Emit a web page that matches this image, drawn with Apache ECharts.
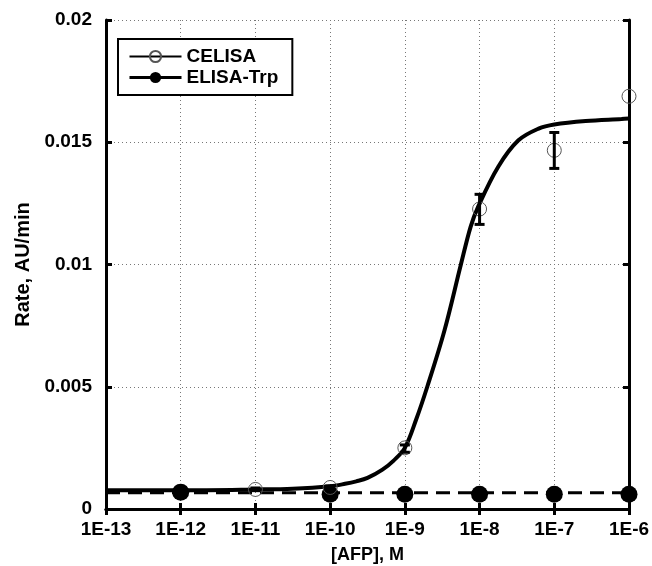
<!DOCTYPE html>
<html>
<head>
<meta charset="utf-8">
<script src="https://cdn.jsdelivr.net/npm/echarts@6/dist/echarts.min.js"></script>
<style>
  html, body { margin: 0; padding: 0; background: #fff; }
  #main { width: 652px; height: 566px; }
</style>
</head>
<body>
<div id="main"></div>
<script>
// CELISA measured points, with error bars
var celisaX = [1e-11, 1e-10, 1e-9, 1e-8, 1e-7, 1e-6];
var celisaY = [0.0008, 0.00088, 0.0025, 0.01227, 0.01467, 0.01688];
var errX = [1e-11, 1e-10, 1e-9, 1e-8, 1e-7];
var errLow = [0.00075, 0.00082, 0.00232, 0.01164, 0.01393];
var errHigh = [0.00086, 0.00094, 0.00262, 0.01287, 0.0154];

// ELISA-Trp measured points
var trpX = [1e-12, 1e-10, 1e-9, 1e-8, 1e-7, 1e-6];
var trpY = [0.00069, 0.0006, 0.0006, 0.0006, 0.0006, 0.0006];

// fitted curves (log10 of concentration)
var curveLogX = [-13, -12, -11, -10.5, -10, -9.8, -9.65, -9.5, -9.3, -9.15, -9, -8.85, -8.7, -8.47, -8.25, -8.12, -8.02, -7.75, -7.48, -7.21, -7, -6.58, -6.1, -6];
var curveY = [0.00077, 0.00077, 0.0008, 0.00083, 0.00093, 0.00103, 0.00113, 0.00127, 0.00161, 0.00198, 0.0025, 0.00365, 0.005, 0.0073, 0.01, 0.01154, 0.01236, 0.014, 0.01508, 0.01556, 0.01573, 0.01587, 0.01595, 0.01597];
var trpFitX = [1e-13, 1e-6];
var trpFitY = [0.00066, 0.00066];

var FONT = '"Liberation Sans", Arial, sans-serif';

var chart = echarts.init(document.getElementById('main'));

var curveData = curveLogX.map(function (lx, i) { return [Math.pow(10, lx), curveY[i]]; });
var celisaData = celisaX.map(function (x, i) { return [x, celisaY[i]]; });
var errData = errX.map(function (x, i) { return [x, errLow[i], errHigh[i]]; });
var trpData = trpX.map(function (x, i) { return [x, trpY[i]]; });
var trpFit = trpFitX.map(function (x, i) { return [x, trpFitY[i]]; });

var tickStyle = { show: true, inside: true, length: 6, lineStyle: { color: '#000', width: 3 } };
var lineAxis = { show: true, lineStyle: { color: '#000', width: 3 } };
var grid = { show: true, lineStyle: { color: '#777', width: 1, type: [1, 3] } };

var option = {
  animation: false,
  grid: { left: 106, right: 23, top: 20, bottom: 57, outerBoundsMode: 'none', containLabel: false },
  legend: {
    orient: 'vertical',
    left: 118,
    top: 39,
    padding: [8, 14, 8, 10],
    itemGap: 2,
    itemWidth: 52,
    itemHeight: 14,
    borderColor: '#000',
    borderWidth: 2,
    backgroundColor: '#fff',
    textStyle: { fontFamily: FONT, fontWeight: 'bold', fontSize: 19, color: '#000' },
    data: [
      { name: 'CELISA', lineStyle: { color: '#000', width: 2, opacity: 1 } },
      { name: 'ELISA-Trp', lineStyle: { color: '#000', width: 3, opacity: 1 } }
    ]
  },
  xAxis: [{
    type: 'log',
    logBase: 10,
    min: 1e-13,
    max: 1e-6,
    name: '[AFP], M',
    nameLocation: 'middle',
    nameGap: 37,
    nameTextStyle: { fontFamily: FONT, fontWeight: 'bold', fontSize: 18, color: '#000' },
    axisLine: lineAxis,
    axisTick: tickStyle,
    splitLine: grid,
    minorTick: { show: false },
    axisLabel: {
      fontFamily: FONT, fontWeight: 'bold', fontSize: 19, color: '#000', margin: 11,
      formatter: function (v) { return '1E' + Math.round(Math.log10(v)); }
    }
  }, {
    type: 'log',
    logBase: 10,
    min: 1e-13,
    max: 1e-6,
    position: 'top',
    axisLine: lineAxis,
    axisTick: tickStyle,
    axisLabel: { show: false },
    splitLine: { show: false }
  }],
  yAxis: [{
    type: 'value',
    min: 0,
    max: 0.02,
    interval: 0.005,
    name: 'Rate, AU/min',
    nameLocation: 'middle',
    nameGap: 66,
    nameTextStyle: { fontFamily: FONT, fontWeight: 'bold', fontSize: 20, color: '#000' },
    axisLine: lineAxis,
    axisTick: tickStyle,
    splitLine: grid,
    axisLabel: { fontFamily: FONT, fontWeight: 'bold', fontSize: 19, color: '#000', margin: 14 }
  }, {
    type: 'value',
    min: 0,
    max: 0.02,
    interval: 0.005,
    position: 'right',
    axisLine: lineAxis,
    axisTick: tickStyle,
    axisLabel: { show: false },
    splitLine: { show: false }
  }],
  series: [
    {
      name: 'CELISA fit',
      type: 'line',
      data: curveData,
      smooth: 0.35,
      showSymbol: false,
      lineStyle: { color: '#000', width: 4 },
      z: 3
    },
    {
      name: 'ELISA-Trp fit',
      type: 'line',
      data: trpFit,
      showSymbol: false,
      lineStyle: { color: '#000', width: 3, type: [14, 8] },
      z: 3
    },
    {
      name: 'ELISA-Trp',
      type: 'line',
      data: trpData,
      symbol: 'circle',
      symbolSize: 17,
      clip: false,
      itemStyle: { color: '#000' },
      lineStyle: { opacity: 0 },
      z: 4
    },
    {
      name: 'CELISA',
      type: 'line',
      data: celisaData,
      symbol: 'circle',
      symbolSize: 14,
      clip: false,
      itemStyle: { color: 'rgba(0,0,0,0)', borderColor: '#555', borderWidth: 1 },
      lineStyle: { opacity: 0 },
      z: 5
    },
    {
      name: 'err',
      type: 'custom',
      data: errData,
      encode: { x: 0, y: [1, 2] },
      clip: false,
      z: 6,
      renderItem: function (params, api) {
        var lo = api.coord([api.value(0), api.value(1)]);
        var hi = api.coord([api.value(0), api.value(2)]);
        var w = 5;
        var st = { stroke: '#000', lineWidth: 3 };
        return {
          type: 'group',
          children: [
            { type: 'line', shape: { x1: lo[0], y1: lo[1], x2: hi[0], y2: hi[1] }, style: st },
            { type: 'line', shape: { x1: lo[0] - w, y1: lo[1], x2: lo[0] + w, y2: lo[1] }, style: st },
            { type: 'line', shape: { x1: hi[0] - w, y1: hi[1], x2: hi[0] + w, y2: hi[1] }, style: st }
          ]
        };
      }
    }
  ]
};

chart.setOption(option);
</script>
</body>
</html>
